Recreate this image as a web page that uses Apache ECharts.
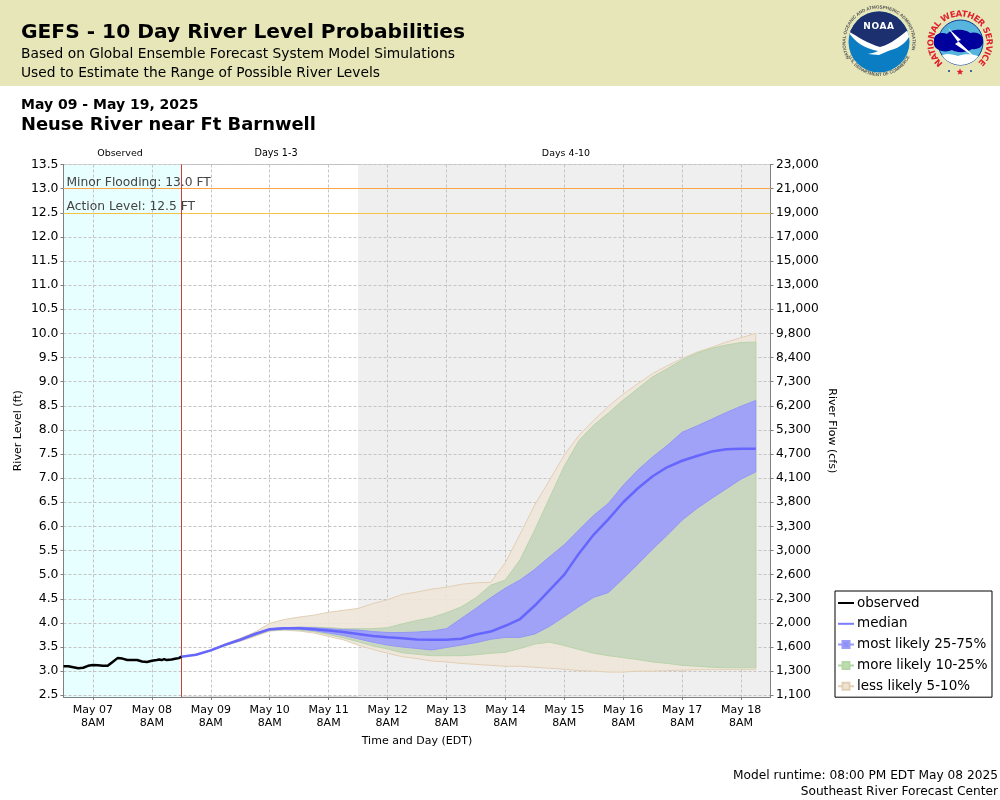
<!DOCTYPE html>
<html>
<head>
<meta charset="utf-8">
<title>GEFS - 10 Day River Level Probabilities</title>
<script src="https://cdn.jsdelivr.net/npm/echarts@6/dist/echarts.min.js"></script>
<style>
html,body{margin:0;padding:0;background:#fff;}
#chart{position:absolute;left:0;top:0;width:1000px;height:800px;}
#logos{position:absolute;left:0;top:0;width:1000px;height:86px;}
</style>
</head>
<body>
<div id="chart"></div>
<svg id="logos" viewBox="0 0 1000 86" xmlns="http://www.w3.org/2000/svg">
	<defs>
		<path id="noaaRing" d="M879,75.5a33.5,33.5 0 1,1 0.01,0"/>
		<path id="noaaRingBottom" d="M845,42a34,34 0 0,0 68,0"/>
		<path id="nwsRing" d="M943,63.3A26.5,26.5 0 1,1 977,63.3"/>
		<clipPath id="noaaClip"><circle cx="879" cy="42" r="30.5"/></clipPath>
		<clipPath id="nwsClip"><circle cx="960.5" cy="42.5" r="22.5"/></clipPath>
	</defs>
	<circle cx="879" cy="42" r="30.5" fill="#0b7dc3"/>
	<g clip-path="url(#noaaClip)">
		<path d="M848,10H910V33C902,37 893,44 880,51C866,44 856,37 848,33Z" fill="#1c2f6e"/>
		<path d="M848,31C858,37 869,44 880,47C892,44 901,35 912,27C911,38 903,47 891,50C887,51 884,53 879,55C875,55 871,54 868,54C873,53 877,52 878,51C866,49 854,42 848,31Z" fill="#fff"/>
	</g>
	<text x="879" y="28.5" text-anchor="middle" font-family="DejaVu Sans" font-weight="bold" font-size="9" fill="#fff" letter-spacing="0.6">NOAA</text>
	<text font-family="Liberation Sans" font-size="4.5" font-weight="bold" fill="#555"><textPath href="#noaaRing" startOffset="17%">NATIONAL OCEANIC AND ATMOSPHERIC ADMINISTRATION</textPath></text>
	<text font-family="Liberation Sans" font-size="4.5" font-weight="bold" fill="#555" text-anchor="middle"><textPath href="#noaaRingBottom" startOffset="50%">U.S. DEPARTMENT OF COMMERCE</textPath></text>

	<circle cx="960.5" cy="42.5" r="22.5" fill="#57b4dc" stroke="#123c96" stroke-width="1"/>
	<g clip-path="url(#nwsClip)">
		<path d="M938,58C944,52 952,54 958,56C966,53 976,54 984,59V68H938Z" fill="#fff"/>
	</g>
	<path d="M934,39C935,33 943,32 947,34C952,28 966,29 970,33C976,31 983,34 983,40C984,47 977,50 972,49C966,53 957,53 952,50C946,53 936,51 934,45Z" fill="#00009c"/>
	<path d="M948,28L961,40L958,41L976,58L955,44L958,42Z" fill="#fff"/>
	<text font-family="DejaVu Sans" font-size="8.5" font-weight="bold" fill="#e0202c" textLength="128" lengthAdjust="spacing"><textPath href="#nwsRing">NATIONAL WEATHER SERVICE</textPath></text>
	<circle cx="949" cy="71" r="1" fill="#123c96"/>
	<circle cx="971" cy="71" r="1" fill="#123c96"/>
	<path d="M960,68.5l1,2.2 2.3,0.2-1.8,1.5 0.6,2.3-2.1,-1.3-2.1,1.3 0.6,-2.3-1.8,-1.5 2.3,-0.2Z" fill="#e0202c"/>
</svg>
<script>
// hours counted from May 06 8PM EDT (left edge of the plot)
var axisStart = 0;
var axisEnd = 288;
var observedEnd = 48;
var daysFourStart = 120;
var dayTickHours = [12, 36, 60, 84, 108, 132, 156, 180, 204, 228, 252, 276];
var dayTickNames = ['May 07', 'May 08', 'May 09', 'May 10', 'May 11', 'May 12', 'May 13', 'May 14', 'May 15', 'May 16', 'May 17', 'May 18'];

var levelTicks = [2.5, 3, 3.5, 4, 4.5, 5, 5.5, 6, 6.5, 7, 7.5, 8, 8.5, 9, 9.5, 10, 10.5, 11, 11.5, 12, 12.5, 13, 13.5];
var flowLabels = ['1,100', '1,300', '1,600', '2,000', '2,300', '2,600', '3,000', '3,300', '3,800', '4,100', '4,700', '5,300', '6,200', '7,300', '8,400', '9,800', '11,000', '13,000', '15,000', '17,000', '19,000', '21,000', '23,000'];

var observedHours = [0, 2, 4, 6, 8, 10, 12, 14, 16, 18, 20, 22, 24, 26, 28, 30, 32, 34, 36, 38, 39, 40, 41, 42, 44, 46, 47, 48];
var observedLevel = [3.10, 3.10, 3.08, 3.06, 3.07, 3.11, 3.125, 3.12, 3.11, 3.11, 3.19, 3.27, 3.26, 3.23, 3.23, 3.23, 3.20, 3.19, 3.215, 3.23, 3.24, 3.23, 3.25, 3.23, 3.24, 3.26, 3.27, 3.30];

var forecastHours = [48, 54, 60, 66, 72, 78, 84, 90, 96, 102, 108, 114, 120, 126, 132, 138, 144, 150, 156, 162, 168, 174, 180, 186, 192, 198, 204, 210, 216, 222, 228, 234, 240, 246, 252, 258, 264, 270, 276, 282];
var median = [3.30, 3.34, 3.43, 3.55, 3.65, 3.77, 3.87, 3.89, 3.89, 3.87, 3.84, 3.81, 3.77, 3.73, 3.70, 3.68, 3.655, 3.65, 3.65, 3.67, 3.76, 3.82, 3.94, 4.08, 4.36, 4.68, 5.00, 5.44, 5.83, 6.15, 6.50, 6.79, 7.04, 7.23, 7.36, 7.46, 7.55, 7.60, 7.61, 7.61];
var q75 = [3.30, 3.34, 3.43, 3.55, 3.66, 3.78, 3.88, 3.90, 3.91, 3.90, 3.88, 3.86, 3.85, 3.82, 3.80, 3.80, 3.81, 3.83, 3.88, 4.09, 4.30, 4.52, 4.72, 4.89, 5.11, 5.37, 5.62, 5.93, 6.23, 6.48, 6.85, 7.17, 7.44, 7.68, 7.95, 8.08, 8.22, 8.36, 8.49, 8.61];
var q25 = [3.30, 3.34, 3.43, 3.54, 3.64, 3.75, 3.85, 3.87, 3.87, 3.84, 3.79, 3.74, 3.67, 3.60, 3.54, 3.50, 3.47, 3.44, 3.49, 3.54, 3.59, 3.66, 3.70, 3.70, 3.77, 3.93, 4.13, 4.34, 4.53, 4.63, 4.92, 5.22, 5.53, 5.82, 6.13, 6.37, 6.58, 6.78, 6.98, 7.13];
var q90 = [3.30, 3.35, 3.44, 3.56, 3.67, 3.79, 3.87, 3.90, 3.91, 3.91, 3.90, 3.88, 3.88, 3.88, 3.90, 3.98, 4.05, 4.11, 4.21, 4.33, 4.52, 4.78, 4.89, 5.31, 5.93, 6.59, 7.25, 7.78, 8.10, 8.35, 8.62, 8.86, 9.10, 9.27, 9.45, 9.59, 9.69, 9.76, 9.81, 9.82];
var q10 = [3.30, 3.34, 3.42, 3.53, 3.63, 3.74, 3.84, 3.86, 3.85, 3.82, 3.76, 3.69, 3.61, 3.52, 3.46, 3.38, 3.35, 3.32, 3.32, 3.32, 3.34, 3.37, 3.39, 3.47, 3.56, 3.60, 3.53, 3.45, 3.37, 3.32, 3.28, 3.24, 3.19, 3.16, 3.12, 3.10, 3.08, 3.07, 3.07, 3.07];
var q95 = [3.30, 3.35, 3.44, 3.57, 3.68, 3.81, 3.99, 4.07, 4.12, 4.16, 4.22, 4.26, 4.30, 4.40, 4.48, 4.59, 4.64, 4.70, 4.74, 4.80, 4.83, 4.84, 5.25, 5.84, 6.45, 6.96, 7.48, 7.89, 8.20, 8.49, 8.74, 8.96, 9.17, 9.33, 9.48, 9.61, 9.71, 9.82, 9.91, 10.0];
var q5 = [3.30, 3.34, 3.42, 3.53, 3.62, 3.72, 3.83, 3.85, 3.83, 3.79, 3.72, 3.65, 3.54, 3.45, 3.37, 3.30, 3.26, 3.21, 3.19, 3.16, 3.14, 3.12, 3.10, 3.10, 3.08, 3.06, 3.04, 3.01, 3.00, 2.98, 2.98, 3.00, 3.00, 3.01, 3.02, 3.03, 3.03, 3.03, 3.03, 3.03];

var fontName = 'DejaVu Sans';
var lineIcon = 'path://M0,0L0,0M16,16L16,16M0,8L16,8';
var boxIcon = 'path://M0,0L0,0M16,16L16,16M0,8L4.5,8M11.5,8L16,8M4.5,4.5L11.5,4.5L11.5,11.5L4.5,11.5Z';

function bandSeries(name, lower, upper, fill, edge, z){
	return {
		name: name,
		type: 'custom',
		coordinateSystem: 'cartesian2d',
		z: z,
		silent: true,
		data: forecastHours.map(function(h, i){ return [h, lower[i], upper[i]]; }),
		encode: {x: 0, y: [1, 2]},
		itemStyle: {color: fill, borderColor: edge},
		renderItem: function(params, api){
			if(params.dataIndex != 0){
				return null;
			}
			var points = [];
			forecastHours.forEach(function(h, i){ points.push(api.coord([h, upper[i]])); });
			for(var i = forecastHours.length - 1; i >= 0; i--){
				points.push(api.coord([forecastHours[i], lower[i]]));
			}
			return {type: 'polygon', shape: {points: points}, style: {fill: fill, stroke: edge, lineWidth: 1}};
		}
	};
}

function headerText(text, x, y, size, weight, align){
	return {
		type: 'text',
		x: x,
		y: y,
		z: 10,
		style: {text: text, fontFamily: fontName, fontSize: size, fontWeight: weight || 'normal', fill: '#000', align: align || 'left', verticalAlign: 'middle'}
	};
}

var gridLine = {color: '#c4c4c4', type: [3, 2], width: 1};

var mychart = echarts.init(document.getElementById('chart'));
var option = {
	animation: false,
	backgroundColor: '#fff',
	textStyle: {fontFamily: fontName},
	grid: {left: 63.5, width: 707, top: 164.5, height: 532.5, show: true, borderColor: '#c0c0c0', borderWidth: 1, backgroundColor: 'transparent', containLabel: false},
	xAxis: {
		type: 'value',
		min: axisStart,
		max: axisEnd,
		z: 2,
		name: 'Time and Day (EDT)',
		nameLocation: 'middle',
		nameMoveOverlap: false,
		nameGap: 39,
		nameTextStyle: {fontSize: 11, color: '#000', fontFamily: fontName},
		axisLine: {lineStyle: {color: '#808080', width: 1}},
		axisTick: {show: true, length: 3, lineStyle: {color: '#808080'}, customValues: dayTickHours},
		axisLabel: {
			customValues: dayTickHours,
			color: '#000',
			fontSize: 11,
			fontFamily: fontName,
			margin: 7,
			lineHeight: 13,
			formatter: function(value){ return dayTickNames[dayTickHours.indexOf(value)] + '\n8AM'; }
		},
		splitLine: {show: true, customValues: dayTickHours, lineStyle: gridLine}
	},
	yAxis: [{
		type: 'value',
		min: 2.464,
		max: 13.5,
		z: 2,
		name: 'River Level (ft)',
		nameLocation: 'middle',
		nameMoveOverlap: false,
		nameGap: 40,
		nameTextStyle: {fontSize: 11, color: '#000', fontFamily: fontName},
		axisLine: {show: true, lineStyle: {color: '#808080', width: 1}},
		axisTick: {show: true, length: 3, lineStyle: {color: '#808080'}, customValues: levelTicks},
		axisLabel: {
			customValues: levelTicks,
			color: '#000',
			fontSize: 12.4,
			fontFamily: fontName,
			margin: 5,
			padding: [3, 0, 0, 0],
			formatter: function(value){ return value.toFixed(1); }
		},
		splitLine: {show: true, customValues: levelTicks, lineStyle: gridLine}
	}, {
		type: 'value',
		position: 'right',
		min: 2.464,
		max: 13.5,
		z: 2,
		name: 'River Flow (cfs)',
		nameLocation: 'middle',
		nameMoveOverlap: false,
		nameRotate: -90,
		nameGap: 56,
		nameTextStyle: {fontSize: 11, color: '#000', fontFamily: fontName},
		axisLine: {show: true, lineStyle: {color: '#808080', width: 1}},
		axisTick: {show: true, length: 3, lineStyle: {color: '#808080'}, customValues: levelTicks},
		axisLabel: {
			customValues: levelTicks,
			color: '#000',
			fontSize: 12.2,
			fontFamily: fontName,
			margin: 5.5,
			padding: [3, 0, 0, 0],
			formatter: function(value){ return flowLabels[levelTicks.indexOf(value)]; }
		},
		splitLine: {show: false}
	}],
	legend: {
		left: 835,
		top: 591,
		orient: 'vertical',
		padding: [3, 4.5, 2, 2],
		backgroundColor: '#fff',
		borderColor: '#000',
		borderWidth: 1,
		itemWidth: 16,
		itemHeight: 16,
		itemGap: 2.8,
		selectedMode: false,
		textStyle: {fontSize: 13.5, color: '#000', fontFamily: fontName, padding: [0, 0, 0, -2]},
		data: [
			{name: 'observed', icon: lineIcon, itemStyle: {color: 'transparent', borderColor: '#000', borderWidth: 2}},
			{name: 'median', icon: lineIcon, itemStyle: {color: 'transparent', borderColor: '#7c7cff', borderWidth: 2}},
			{name: 'most likely 25-75%', icon: boxIcon, itemStyle: {color: '#8f91fb', borderColor: '#9a9cf8', borderWidth: 2}},
			{name: 'more likely 10-25%', icon: boxIcon, itemStyle: {color: '#bfdcb0', borderColor: '#b5d6a5', borderWidth: 2}},
			{name: 'less likely 5-10%', icon: boxIcon, itemStyle: {color: '#efe3d4', borderColor: '#e3cfb5', borderWidth: 2}}
		]
	},
	graphic: [
		{type: 'rect', shape: {x: 0, y: 0, width: 1000, height: 86}, style: {fill: '#e6e6b9'}, z: -1, silent: true},
		headerText('GEFS - 10 Day River Level Probabilities', 21, 33, 20.2, 'bold'),
		headerText('Based on Global Ensemble Forecast System Model Simulations', 21, 54, 13.8),
		headerText('Used to Estimate the Range of Possible River Levels', 21, 73, 13.8),
		headerText('May 09 - May 19, 2025', 21, 105.5, 14, 'bold'),
		headerText('Neuse River near Ft Barnwell', 21, 125.5, 17.9, 'bold'),
		headerText('Observed', 120, 153.5, 9.5, 'normal', 'center'),
		headerText('Days 1-3', 276, 153.5, 9.7, 'normal', 'center'),
		headerText('Days 4-10', 566, 153.5, 9.5, 'normal', 'center'),
		headerText('Model runtime: 08:00 PM EDT May 08 2025', 998, 775.5, 12.2, 'normal', 'right'),
		headerText('Southeast River Forecast Center', 998, 791.5, 12.2, 'normal', 'right')
	],
	series: [
		{
			name: 'regions',
			type: 'custom',
			coordinateSystem: 'cartesian2d',
			z: 1,
			silent: true,
			data: [[axisStart, observedEnd, 0], [daysFourStart, axisEnd, 1]],
			encode: {x: [0, 1]},
			renderItem: function(params, api){
				var a = api.coord([api.value(0), 13.5]);
				var b = api.coord([api.value(1), 2.464]);
				return {type: 'rect', shape: {x: a[0], y: a[1], width: b[0] - a[0], height: b[1] - a[1]}, style: {fill: api.value(2) == 0 ? '#e8ffff' : '#efefef'}};
			}
		},
		bandSeries('less likely 5-10%', q5, q95, 'rgba(238,229,217,0.9)', '#e3cfb5', 3),
		bandSeries('more likely 10-25%', q10, q90, 'rgba(198,213,189,0.92)', '#b9d4aa', 4),
		bandSeries('most likely 25-75%', q25, q75, 'rgba(155,157,251,0.92)', '#9496f6', 5),
		{
			name: 'median',
			type: 'line',
			z: 6,
			showSymbol: false,
			silent: true,
			lineStyle: {color: '#6666ff', width: 2.5},
			itemStyle: {color: '#6666ff'},
			data: forecastHours.map(function(h, i){ return [h, median[i]]; })
		},
		{
			name: 'observed',
			type: 'line',
			z: 7,
			showSymbol: false,
			silent: true,
			lineStyle: {color: '#000', width: 2.5},
			itemStyle: {color: '#000'},
			data: observedHours.map(function(h, i){ return [h, observedLevel[i]]; }),
			markLine: {
				silent: true,
				symbol: 'none',
				animation: false,
				data: [
					{yAxis: 13, lineStyle: {color: '#ffa544', width: 1, type: 'solid'}, label: {show: true, position: 'insideStartTop', formatter: 'Minor Flooding: 13.0 FT', color: '#444', fontSize: 12.3, fontFamily: fontName, distance: [3, 0]}},
					{yAxis: 12.5, lineStyle: {color: '#f5c444', width: 1, type: 'solid'}, label: {show: true, position: 'insideStartTop', formatter: 'Action Level: 12.5 FT', color: '#444', fontSize: 12.3, fontFamily: fontName, distance: [3, 0]}},
					{xAxis: observedEnd, lineStyle: {color: '#d03a3a', width: 1, type: 'solid'}, label: {show: false}}
				]
			}
		}
	]
};
mychart.setOption(option);
</script>
</body>
</html>
